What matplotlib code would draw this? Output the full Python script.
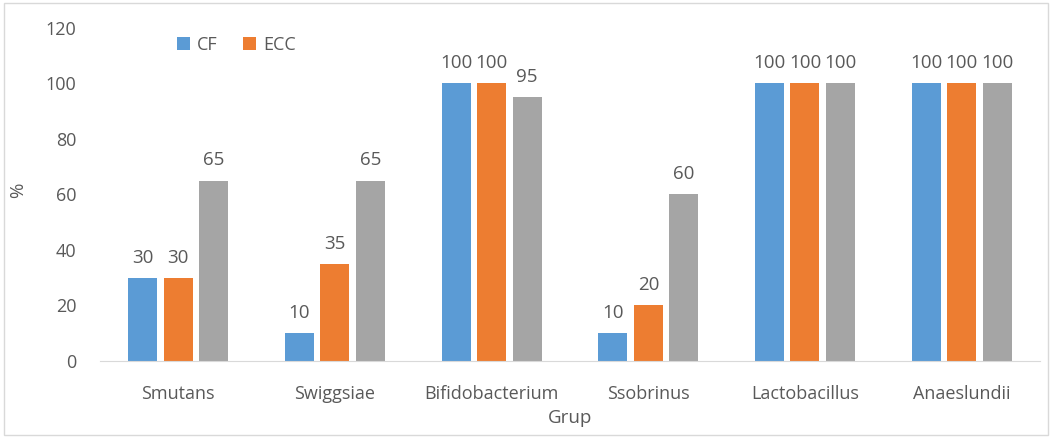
import matplotlib.pyplot as plt
import numpy as np

plt.rcParams['font.family'] = ['Open Sans', 'DejaVu Sans']

groups = ['Smutans', 'Swiggsiae', 'Bifidobacterium', 'Ssobrinus', 'Lactobacillus', 'Anaeslundii']
cf = [30, 10, 100, 10, 100, 100]
ecc = [30, 35, 100, 20, 100, 100]
third = [65, 65, 95, 60, 100, 100]

txt = '#595959'
fig = plt.figure(figsize=(10.52, 4.37), dpi=100)
ax = fig.add_axes([0.095, 0.174, 0.8936, 0.762])

x = np.arange(len(groups))
w = 0.185
off = 0.227
series = [(cf, '#5B9BD5', 'CF'), (ecc, '#ED7D31', 'ECC'), (third, '#A5A5A5', '_nolegend_')]
for i, (vals, col, lab) in enumerate(series):
    bars = ax.bar(x + (i - 1) * off, vals, w, color=col, label=lab)
    for b, v in zip(bars, vals):
        ax.text(b.get_x() + b.get_width() / 2, v + 4, str(v), ha='center', va='bottom',
                fontsize=13.5, color=txt)

ax.set_xlim(-0.5, len(groups) - 0.5)
ax.set_ylim(0, 120)
ax.set_yticks(range(0, 121, 20))
ax.set_xticks(x)
ax.set_xticklabels(groups)
ax.tick_params(length=0, labelsize=13, colors=txt)
ax.tick_params(axis='x', pad=17)
ax.tick_params(axis='y', pad=17)
for s in ['top', 'right', 'left']:
    ax.spines[s].set_visible(False)
ax.spines['bottom'].set_color('#D9D9D9')
ax.set_xlabel('Grup', fontsize=13.5, color=txt)
ax.set_ylabel('%', fontsize=13.5, color=txt)
ax.xaxis.set_label_coords(0.5, -0.145)
ax.yaxis.set_label_coords(-0.077, 0.513)

ax.legend(loc='upper left', bbox_to_anchor=(0.065, 1.025), ncol=2, frameon=False,
          fontsize=13, labelcolor=txt, handlelength=0.7, handleheight=0.7,
          columnspacing=1.4, handletextpad=0.4)

fig.patches.append(plt.Rectangle((0.004, 0.004), 0.992, 0.99, transform=fig.transFigure,
                                 fill=False, edgecolor='#D9D9D9', linewidth=1))
fig.savefig('out.png', dpi=100)
